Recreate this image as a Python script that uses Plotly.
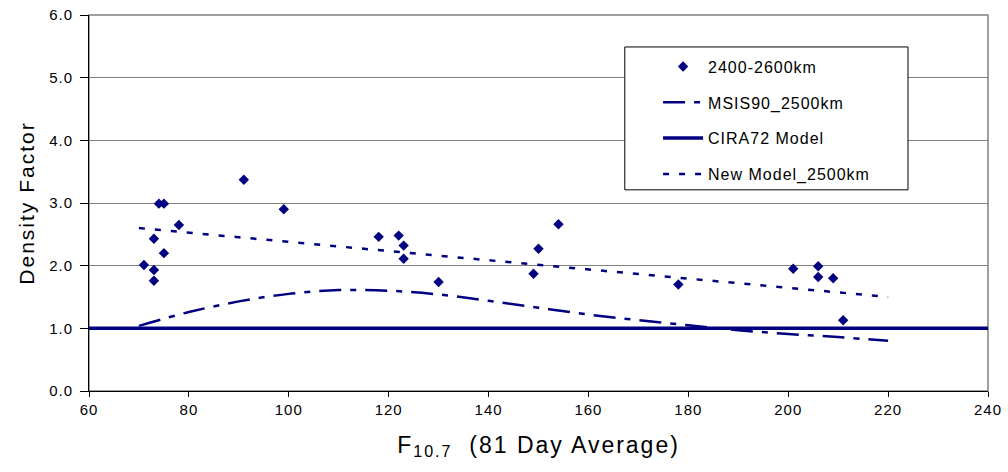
import plotly.graph_objects as go

# Observed data (2400-2600 km)
obs_f107 = [71, 73, 73, 73, 74, 75, 75, 78, 91, 99, 118, 122, 123, 123, 130,
            149, 150, 154, 178, 201, 206, 206, 209, 211]
obs_density = [2.01, 1.93, 1.76, 2.43, 2.99, 2.99, 2.20, 2.65, 3.37, 2.90, 2.46, 2.48, 2.32, 2.11, 1.74,
               1.87, 2.27, 2.66, 1.70, 1.95, 1.99, 1.82, 1.80, 1.13]

# MSIS90 model at 2500 km
msis_f107 = [70, 80, 90, 100, 110, 120, 130, 140, 150, 160, 170, 180, 190, 200, 210, 220]
msis_density = [1.04, 1.26, 1.43, 1.55, 1.61, 1.60, 1.54, 1.44, 1.33, 1.22, 1.13, 1.05, 0.97, 0.91, 0.86, 0.80]

# CIRA72 model
cira_f107 = [60, 240]
cira_density = [1.0, 1.0]

# New model at 2500 km
new_f107 = [70, 100, 130, 160, 190, 220]
new_density = [2.60, 2.38, 2.16, 1.94, 1.72, 1.50]

x_ticks = [60, 80, 100, 120, 140, 160, 180, 200, 220, 240]
y_ticks = [0, 1, 2, 3, 4, 5, 6]

navy = "#000080"


def spaced(text, px):
    return f'<span style="letter-spacing:{px}px">{text}</span>'


fig = go.Figure()
fig.add_trace(go.Scatter(x=obs_f107, y=obs_density, mode="markers", name=spaced("2400-2600km", 1),
                         legendgroup="a",
                         marker=dict(symbol="diamond", size=8, color=navy)))
fig.add_trace(go.Scatter(x=msis_f107, y=msis_density, mode="lines", name=spaced("MSIS90_2500km", 1),
                         legendgroup="b",
                         line=dict(color=navy, width=2.5, dash="22px,9px,6px,9px", shape="spline")))
fig.add_trace(go.Scatter(x=cira_f107, y=cira_density, mode="lines", name=spaced("CIRA72 Model", 1),
                         legendgroup="c",
                         line=dict(color=navy, width=3.5)))
fig.add_trace(go.Scatter(x=new_f107, y=new_density, mode="lines", name=spaced("New Model_2500km", 1),
                         legendgroup="d",
                         line=dict(color=navy, width=2.5, dash="6px,10px")))

font_family = "Arial, Liberation Sans, sans-serif"

fig.update_layout(
    width=1008, height=472,
    margin=dict(l=89, r=20, t=15, b=81, autoexpand=False),
    paper_bgcolor="white", plot_bgcolor="white",
    font=dict(family=font_family, color="black"),
    showlegend=True,
    legend=dict(x=0.633, y=0.908, xanchor="left", yanchor="top",
                bgcolor="rgba(0,0,0,0)", borderwidth=0,
                font=dict(size=16, family=font_family),
                itemwidth=40, tracegroupgap=12),
    xaxis=dict(range=[60, 240], tickvals=x_ticks, ticktext=[spaced(str(v), 1) for v in x_ticks],
               showgrid=False, showline=True, linecolor="black", linewidth=1,
               ticks="outside", ticklen=5, tickcolor="black", automargin=False,
               tickfont=dict(size=15), zeroline=False,
               title=dict(text=spaced("F<sub>10.7</sub>  (81 Day Average)", 2),
                          font=dict(size=23), standoff=19)),
    yaxis=dict(range=[0, 6], tickvals=y_ticks, ticktext=[spaced(f"{v:.1f}", 1) for v in y_ticks],
               showgrid=True, gridcolor="#808080", gridwidth=1,
               showline=True, linecolor="black", linewidth=1,
               ticks="outside", ticklen=8, tickcolor="black", automargin=False,
               tickfont=dict(size=15), zeroline=False, ticklabelstandoff=4,
               title=dict(text=spaced("Density Factor", 2), font=dict(size=21), standoff=8)),
    shapes=[
        dict(type="rect", xref="paper", yref="paper", x0=0, x1=1, y0=0, y1=1,
             line=dict(color="#808080", width=1.5), layer="below"),
        dict(type="rect", xref="paper", yref="paper", x0=0.596, x1=0.911, y0=0.535, y1=0.915,
             line=dict(color="black", width=1), fillcolor="white", layer="above"),
    ],
)

fig.write_html("out.html")
